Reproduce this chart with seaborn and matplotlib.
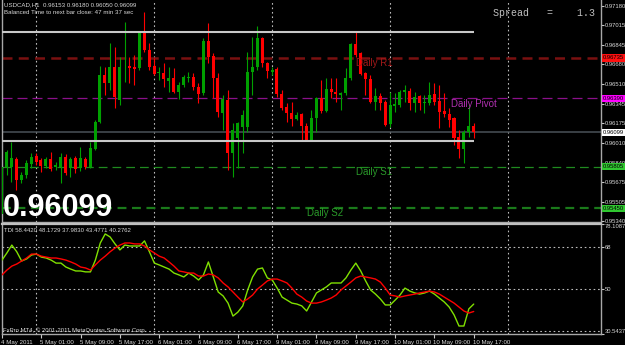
import numpy as np
import pandas as pd
import matplotlib
matplotlib.use("Agg")
import matplotlib.pyplot as plt
import matplotlib.transforms as mtransforms
import seaborn as sns

# ---------------- data ----------------
symbol_header = "USDCAD,H1  0.96153 0.96180 0.96050 0.96099"
timer_text = "Balanced Time to next bar close: 47 min 37 sec"
spread_text = "Spread   =    1.3"
tdi_header = "TDI 58.4420 48.1729 37.9830 43.4771 40.2762"
copyright_text = "FxPro MT4, \u00a9 2001-2011 MetaQuotes Software Corp."
big_price = "0.96099"

opens = [0.95400, 0.95802, 0.95802, 0.95871, 0.95691, 0.95734, 0.95828, 0.95897, 0.95862, 0.95811,
         0.95871, 0.95802, 0.95802, 0.95888, 0.95794, 0.95879, 0.95794, 0.95871, 0.95802, 0.95956,
         0.96187, 0.96590, 0.96521, 0.96658, 0.96376, 0.96655, 0.96667, 0.96658, 0.96649, 0.96949,
         0.96803, 0.96667, 0.96607, 0.96607, 0.96538, 0.96564, 0.96444, 0.96504, 0.96568, 0.96572,
         0.96487, 0.96435, 0.96880, 0.96752, 0.96564, 0.96264, 0.96376, 0.95922, 0.96050, 0.96145,
         0.96145, 0.96615, 0.96658, 0.96906, 0.96692, 0.96615, 0.96641, 0.96427, 0.96316, 0.96264,
         0.96213, 0.96256, 0.96153, 0.96033, 0.96222, 0.96393, 0.96281, 0.96470, 0.96444, 0.96418,
         0.96435, 0.96564, 0.96855, 0.96778, 0.96607, 0.96555, 0.96358, 0.96410, 0.96358, 0.96170,
         0.96324, 0.96333, 0.96444, 0.96453, 0.96350, 0.96410, 0.96350, 0.96350, 0.96427, 0.96367,
         0.96281, 0.96256, 0.96222, 0.96059, 0.95956, 0.96102, 0.96153]
highs = [0.95820, 0.95948, 0.96016, 0.95888, 0.95760, 0.95862, 0.95922, 0.95922, 0.95880, 0.95888,
         0.95931, 0.95845, 0.95922, 0.95914, 0.95888, 0.95897, 0.95974, 0.95888, 0.96016, 0.96204,
         0.96667, 0.96658, 0.96863, 0.96829, 0.96743, 0.97043, 0.96743, 0.96761, 0.96949, 0.97129,
         0.96863, 0.96735, 0.96658, 0.96692, 0.96658, 0.96649, 0.96530, 0.96590, 0.96615, 0.96607,
         0.96521, 0.96906, 0.97035, 0.96778, 0.96607, 0.96418, 0.96461, 0.96179, 0.96187, 0.96290,
         0.96786, 0.96915, 0.97009, 0.96915, 0.96700, 0.96658, 0.96658, 0.96461, 0.96350, 0.96358,
         0.96273, 0.96264, 0.96179, 0.96290, 0.96401, 0.96547, 0.96564, 0.96564, 0.96564, 0.96444,
         0.96649, 0.96863, 0.96957, 0.96786, 0.96615, 0.96590, 0.96478, 0.96435, 0.96376, 0.96444,
         0.96435, 0.96461, 0.96504, 0.96478, 0.96444, 0.96418, 0.96418, 0.96530, 0.96521, 0.96504,
         0.96435, 0.96307, 0.96230, 0.96119, 0.96119, 0.96333, 0.96180]
lows = [0.95380, 0.95734, 0.95674, 0.95605, 0.95665, 0.95708, 0.95794, 0.95819, 0.95760, 0.95794,
        0.95768, 0.95777, 0.95665, 0.95734, 0.95717, 0.95751, 0.95768, 0.95785, 0.95794, 0.95948,
        0.96179, 0.96418, 0.96461, 0.96307, 0.96333, 0.96530, 0.96521, 0.96504, 0.96632, 0.96786,
        0.96632, 0.96590, 0.96547, 0.96487, 0.96444, 0.96435, 0.96384, 0.96487, 0.96530, 0.96461,
        0.96350, 0.96418, 0.96692, 0.96393, 0.96230, 0.96119, 0.95777, 0.95717, 0.95794, 0.95922,
        0.96102, 0.96418, 0.96632, 0.96658, 0.96564, 0.96590, 0.96401, 0.96290, 0.96187, 0.96153,
        0.96204, 0.96033, 0.96033, 0.96033, 0.96102, 0.96264, 0.96273, 0.96393, 0.96358, 0.96290,
        0.96418, 0.96547, 0.96743, 0.96590, 0.96418, 0.96350, 0.96290, 0.96290, 0.96153, 0.96145,
        0.96273, 0.96316, 0.96358, 0.96290, 0.96273, 0.96290, 0.96264, 0.96333, 0.96333, 0.96136,
        0.96230, 0.96145, 0.95990, 0.95879, 0.95836, 0.96059, 0.96050]
closes = [0.95800, 0.95930, 0.95879, 0.95691, 0.95734, 0.95836, 0.95888, 0.95845, 0.95811, 0.95871,
          0.95785, 0.95819, 0.95888, 0.95751, 0.95871, 0.95785, 0.95879, 0.95802, 0.95965, 0.96187,
          0.96590, 0.96521, 0.96658, 0.96401, 0.96658, 0.96660, 0.96649, 0.96641, 0.96949, 0.96803,
          0.96658, 0.96598, 0.96615, 0.96555, 0.96564, 0.96444, 0.96504, 0.96572, 0.96575, 0.96487,
          0.96427, 0.96880, 0.96743, 0.96564, 0.96273, 0.96384, 0.95922, 0.96119, 0.96179, 0.96247,
          0.96615, 0.96658, 0.96906, 0.96692, 0.96624, 0.96632, 0.96427, 0.96307, 0.96264, 0.96213,
          0.96247, 0.96153, 0.96033, 0.96222, 0.96393, 0.96281, 0.96470, 0.96444, 0.96427, 0.96435,
          0.96564, 0.96855, 0.96761, 0.96598, 0.96555, 0.96358, 0.96410, 0.96350, 0.96162, 0.96333,
          0.96341, 0.96444, 0.96461, 0.96350, 0.96401, 0.96350, 0.96358, 0.96418, 0.96358, 0.96273,
          0.96256, 0.96204, 0.96050, 0.95956, 0.96102, 0.96153, 0.96099]

tdi_price_line = [62.5, 65.6, 69.0, 66.1, 62.1, 63.0, 64.7, 65.1, 63.8, 63.4,
                  62.5, 61.2, 61.2, 59.5, 58.6, 57.8, 57.8, 57.4, 57.4, 62.5,
                  69.9, 73.8, 72.5, 69.5, 66.9, 69.0, 68.6, 68.6, 68.6, 70.8,
                  66.1, 61.2, 60.4, 59.5, 58.6, 56.9, 56.1, 55.2, 56.9, 55.6,
                  53.9, 56.1, 61.7, 55.2, 48.7, 47.0, 43.9, 38.3, 40.0, 42.7,
                  49.6, 55.2, 58.6, 59.1, 54.8, 53.9, 50.4, 46.5, 45.2, 43.9,
                  43.5, 42.7, 40.5, 44.4, 48.3, 49.6, 50.9, 52.6, 52.6, 52.6,
                  54.8, 58.2, 61.2, 57.8, 53.5, 49.6, 47.8, 45.7, 43.1, 43.1,
                  45.2, 47.4, 50.4, 49.1, 48.3, 47.8, 48.3, 49.1, 47.8, 46.1,
                  44.4, 42.2, 38.8, 34.0, 34.0, 41.4, 43.48]
tdi_signal_line = [56.1, 58.2, 59.9, 60.8, 62.1, 63.4, 65.1, 65.1, 64.2, 63.8,
                   63.4, 63.4, 63.0, 62.5, 61.7, 60.8, 59.5, 59.1, 58.2, 60.4,
                   62.5, 64.2, 66.1, 67.7, 69.0, 69.9, 69.9, 69.5, 69.5, 68.6,
                   66.9, 65.6, 64.2, 63.4, 61.7, 59.9, 57.8, 57.4, 56.9, 56.9,
                   55.6, 55.6, 56.5, 56.1, 54.8, 52.6, 50.9, 48.7, 46.5, 44.4,
                   45.7, 47.4, 50.0, 51.7, 53.5, 54.3, 54.3, 53.5, 52.6, 50.4,
                   47.8, 46.5, 44.8, 43.9, 43.9, 44.4, 45.2, 46.1, 47.4, 49.6,
                   51.3, 53.0, 54.8, 55.6, 55.2, 54.8, 54.3, 53.0, 50.4, 47.4,
                   47.0, 46.5, 47.0, 47.4, 47.8, 48.3, 48.7, 49.1, 48.7, 47.8,
                   46.5, 45.2, 43.9, 42.2, 40.5, 39.6, 40.28]

time_tick_bars = [0, 8, 16, 24, 32, 40, 48, 56, 64, 72, 80, 88, 96]
time_tick_labels = ["4 May 2011", "5 May 01:00", "5 May 09:00", "5 May 17:00", "6 May 01:00",
                    "6 May 09:00", "6 May 17:00", "9 May 01:00", "9 May 09:00", "9 May 17:00",
                    "10 May 01:00", "10 May 09:00", "10 May 17:00"]
day_separator_bars = [7, 31, 55, 79, 103]

price_ticks = [0.97180, 0.97015, 0.96845, 0.96680, 0.96510, 0.96345, 0.96175,
               0.96010, 0.95840, 0.95675, 0.95505, 0.95340]
level_names = ["Daily R1", "Daily Pivot", "Daily S1", "Daily S2"]
level_values = [0.96735, 0.96390, 0.95805, 0.95450]
range_lines = [0.96957, 0.96025]
bid_price = 0.96099
tdi_levels = [68, 50, 32]
tdi_range = [30.5437, 78.1087]

# ---------------- style ----------------
sns.set_theme(style="dark")
plt.rcParams["font.family"] = ["Liberation Sans", "DejaVu Sans"]
BG = "#000000"
FG = "#d8d8d8"
GRID = "#bcbcbc"
SMALL = 4.2

W, H = 625, 345
fig = plt.figure(figsize=(W / 100, H / 100), dpi=100, facecolor=BG)

def px_rect(x0, y0, x1, y1):
    return [x0 / W, 1 - y1 / H, (x1 - x0) / W, (y1 - y0) / H]

ax = fig.add_axes(px_rect(2, 0, 601, 222))
ax2 = fig.add_axes(px_rect(2, 224, 601, 334))

bars = np.arange(len(closes))
xlim = (0.08, 121.9)

for a in (ax, ax2):
    a.set_facecolor(BG)
    a.set_xlim(*xlim)
    a.grid(False)
    for s in a.spines.values():
        s.set_color("#a8a8a8")
        s.set_linewidth(1.0)
    a.spines["top"].set_visible(False)
    for xb in day_separator_bars:
        a.axvline(xb, color=GRID, lw=0.8, ls=(0, (1.5, 2.5)), zorder=1)

# ---------------- main price panel ----------------
ax.set_ylim(0.95332, 0.97231)
o = np.array(opens); c = np.array(closes); h = np.array(highs); l = np.array(lows)
up = c >= o
bull_col, bear_col = "#00a000", "#ff0000"
cols = np.where(up, bull_col, bear_col)

ax.axhline(level_values[0], color="#7a1010", lw=1.8, ls=(0, (4, 2.5)), zorder=1)
ax.axhline(level_values[1], color="#8a108a", lw=0.9, ls=(0, (8, 4)), zorder=1)
ax.axhline(level_values[2], color="#1f8a1f", lw=0.9, ls=(0, (7, 4)), zorder=1)
ax.axhline(level_values[3], color="#1a7a1a", lw=1.6, ls=(0, (4, 2.5)), zorder=1)
ax.axhline(bid_price, color="#4a5258", lw=1.1, zorder=1)
for rl in range_lines:
    ax.hlines(rl, xlim[0], bars[-1], color="#c8c8c8", lw=1.5, zorder=4)

ax.vlines(bars, l, h, colors=cols, lw=0.8, zorder=2)
body_lo = np.minimum(o, c)
body_h = np.maximum(np.abs(c - o), 0.00003)
ax.bar(bars, body_h, bottom=body_lo, width=0.62, color=cols, linewidth=0, zorder=3)

label_specs = [("Daily R1", 72.1, level_values[0], "#a01818"),
               ("Daily Pivot", 91.4, level_values[1], "#b030b0"),
               ("Daily S1", 72.1, level_values[2], "#2a9a2a"),
               ("Daily S2", 62.1, level_values[3], "#2a9a2a")]
for name, xb, yv, col in label_specs:
    ax.text(xb, yv - 0.00002, name, color=col, fontsize=7, ha="left", va="top", zorder=5)

ax.yaxis.tick_right()
ax.set_yticks(price_ticks)
ax.set_yticklabels([f"{v:.5f}" for v in price_ticks])
ax.tick_params(axis="y", colors="#c8c8c8", labelcolor=FG, labelsize=SMALL, length=2,
               width=0.8, pad=0.5, right=True, left=False)
ax.tick_params(axis="x", bottom=False, labelbottom=False)

box_specs = [(level_values[0], "#ff1010"), (level_values[1], "#ff00ff"),
             (bid_price, "#ffffff"), (level_values[2], "#30c830"), (level_values[3], "#30c830")]
btrans = mtransforms.blended_transform_factory(ax.transAxes, ax.transData)
for yv, col in box_specs:
    ax.text(1.0 + 2.0 / 599, yv, f"{yv:.5f}", transform=btrans, color="#000000", fontsize=SMALL,
            ha="left", va="center", zorder=10, clip_on=False,
            bbox=dict(boxstyle="square,pad=0.2", fc=col, ec="none"))

# ---------------- TDI panel ----------------
ax2.set_ylim(*tdi_range)
for lv in tdi_levels:
    ax2.axhline(lv, color=GRID, lw=0.8, ls=(0, (1.5, 2.5)), zorder=1)
df = pd.DataFrame({"bar": bars, "price": tdi_price_line, "signal": tdi_signal_line})
sns.lineplot(data=df, x="bar", y="price", color="#80e000", lw=1.0, ax=ax2, zorder=3)
sns.lineplot(data=df, x="bar", y="signal", color="#ff0000", lw=1.0, ax=ax2, zorder=4)
ax2.set_xlabel(""); ax2.set_ylabel("")
ax2.spines["top"].set_color("#c0c0c0")
ax2.spines["top"].set_linewidth(1.6)
ax2.spines["top"].set_visible(True)

ax2.yaxis.tick_right()
ax2.set_yticks([tdi_range[1], 68, 50, tdi_range[0]])
ax2.set_yticklabels([f"{tdi_range[1]:.4f}", "68", "50", f"{tdi_range[0]:.4f}"])
ax2.tick_params(axis="y", colors="#c8c8c8", labelcolor=FG, labelsize=SMALL, length=2,
                width=0.8, pad=0.5, right=True, left=False)
ylabs = ax2.get_yticklabels()
ylabs[0].set_va("top")
ylabs[-1].set_va("bottom")

ax2.set_xticks(time_tick_bars)
ax2.set_xticklabels(time_tick_labels)
ax2.tick_params(axis="x", colors="#c8c8c8", labelcolor=FG, labelsize=4.4, length=3,
                width=0.8, pad=1.5, bottom=True)
off = mtransforms.ScaledTranslation(-1 / 100, 0, fig.dpi_scale_trans)
for lab in ax2.get_xticklabels():
    lab.set_ha("left")
    lab.set_transform(lab.get_transform() + off)

# ---------------- texts ----------------
def fx(px): return px / W
def fy(py): return 1 - py / H

fig.text(fx(4), fy(5), symbol_header, color=FG, fontsize=4.4, ha="left", va="center")
fig.text(fx(4), fy(13), timer_text, color=FG, fontsize=4.4, ha="left", va="center")
fig.text(fx(493), fy(13), spread_text, color="#c0c0c0", fontsize=7.2,
         family=["Liberation Mono", "DejaVu Sans Mono"], ha="left", va="center")
fig.text(fx(4), fy(231), tdi_header, color=FG, fontsize=4.3, ha="left", va="center")
fig.text(fx(3), fy(330), copyright_text, color=FG, fontsize=4.3, ha="left", va="center")
fig.text(fx(3), fy(216), big_price, color="#ffffff", fontsize=22, fontweight="bold",
         ha="left", va="baseline")

fig.savefig("out.png", dpi=100, facecolor=BG)
